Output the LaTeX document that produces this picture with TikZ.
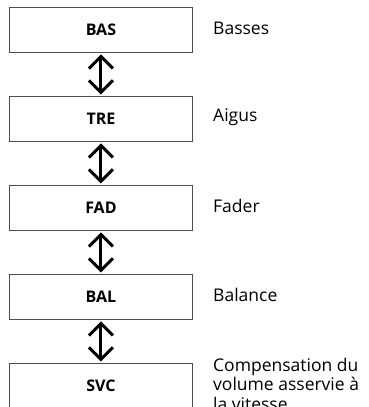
\documentclass[tikz,border=0pt]{standalone}
\usepackage{fontspec}
\setmainfont{Open Sans}
\usetikzlibrary{arrows.meta}
\begin{document}
\begin{tikzpicture}[x=1pt,y=-1pt,
  stepbox/.style={draw=black!70,line width=0.9pt,minimum width=183pt,minimum height=45pt,inner sep=0pt,font=\fontsize{16}{18}\selectfont\bfseries,anchor=north west},
  desc/.style={anchor=west,align=left,inner sep=0pt,font=\fontsize{17.5}{19.5}\selectfont},
  updown/.style={line width=3pt,{Straight Barb[length=12pt,width=24pt,line width=3pt]}-{Straight Barb[length=12pt,width=24pt,line width=3pt]},shorten <=1.5pt,shorten >=1.5pt}]
\useasboundingbox (0,0) rectangle (368,407);
\clip (0,0) rectangle (368,407);
\node[stepbox] (bas) at (9,7) {BAS};
\node[stepbox] (tre) at (9,96) {TRE};
\node[stepbox] (fad) at (9,185) {FAD};
\node[stepbox] (bal) at (9,274) {BAL};
\node[stepbox] (svc) at (9,363) {SVC};
\node[desc] (lbas) at (213,28) {Basses};
\node[desc] (ltre) at (213,117) {Aigus};
\node[desc] (lfad) at (213,206) {Fader};
\node[desc] (lbal) at (213,295) {Balance};
\node[desc] (lsvc) at (213,384) {Compensation du\\volume asservie à\\la vitesse};
\draw[updown] (bas.south) -- (tre.north);
\draw[updown] (tre.south) -- (fad.north);
\draw[updown] (fad.south) -- (bal.north);
\draw[updown] (bal.south) -- (svc.north);
\end{tikzpicture}
\end{document}
